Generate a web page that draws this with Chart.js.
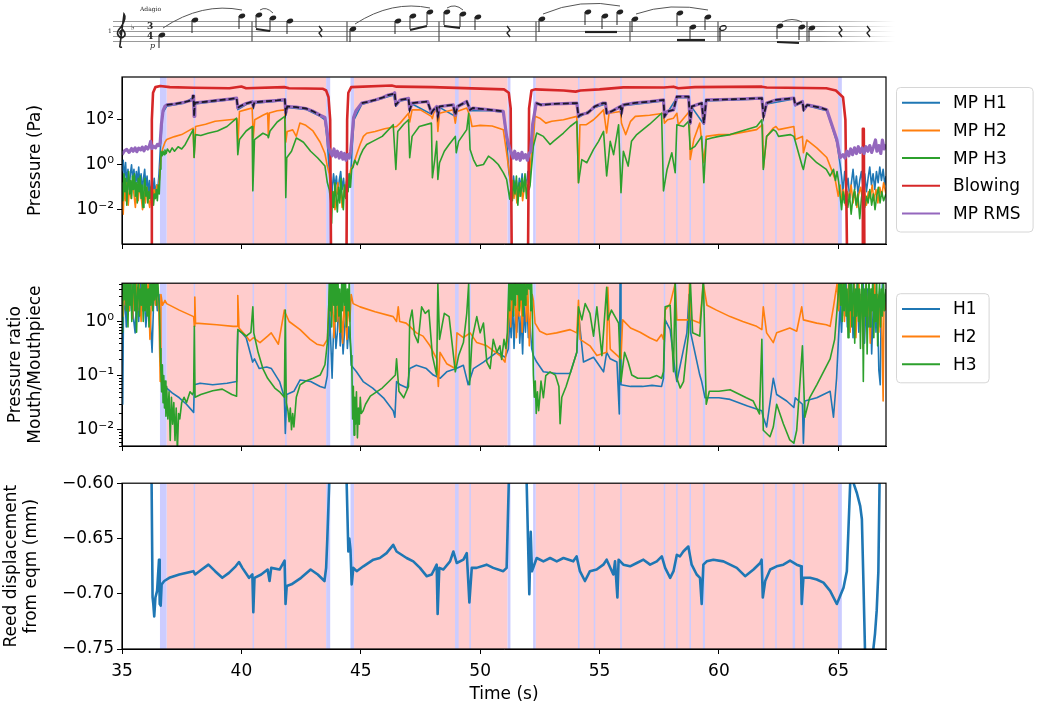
<!DOCTYPE html>
<html><head><meta charset="utf-8">
<script src="https://cdn.jsdelivr.net/npm/chart.js@4.4.1/dist/chart.umd.min.js"></script>
<style>
html,body{margin:0;padding:0;background:#fff;}
body{width:1038px;height:708px;position:relative;overflow:hidden;}
canvas{position:absolute;left:0;}
</style></head><body>
<canvas id="score" width="1038" height="60" style="top:0"></canvas>
<canvas id="c1" width="1038" height="208" style="top:62px"></canvas>
<canvas id="c2" width="1038" height="200" style="top:270px"></canvas>
<canvas id="c3" width="1038" height="238" style="top:470px"></canvas>
<script>
// ---------------- DATA ----------------
const timeTicks = [35, 40, 45, 50, 55, 60, 65];
const pressureTickExps = [-2, 0, 2];
const ratioTickExps = [-2, -1, 0];
const reedTicks = [-0.75, -0.70, -0.65, -0.60];

// shaded note regions (time, s)
const pinkSpans = [[36.87,43.55],[44.72,51.15],[52.33,64.99]];
const blueSpans = [[36.59,36.87],[38.0,38.06],[40.47,40.53],[41.83,41.9],[43.55,43.72],[44.57,44.72],[48.95,49.1],[49.55,49.61],[51.15,51.27],[52.22,52.33],[54.1,54.15],[54.76,54.82],[55.87,55.93],[57.69,57.75],[58.21,58.27],[58.77,58.83],[59.33,59.42],[61.84,61.9],[62.36,62.42],[63.09,63.19],[63.51,63.57],[64.99,65.15]];

// Panel 1: [time, log10 pressure (Pa)]
const mpH1 = [[35,-0.3],[35.05,0.2],[35.1,-0.6],[35.15,0.1],[35.2,-0.9],[35.25,-0.2],[35.3,-1.1],[35.35,-0.4],[35.4,0.0],[35.45,-0.7],[35.5,-0.2],[35.55,-1.0],[35.6,-0.3],[35.65,-0.8],[35.7,-0.1],[35.75,-0.9],[35.8,-0.4],[35.85,-1.2],[35.9,-0.6],[35.95,-0.2],[36.0,-1.0],[36.05,-0.5],[36.1,-1.3],[36.15,-0.7],[36.2,-1.5],[36.25,-0.8],[36.3,-1.2],[36.35,-0.6],[36.4,-1.4],[36.45,-0.9],[36.5,-1.1],[36.55,-0.4],[36.6,0.6],[36.7,2.3],[36.87,2.6],[37.6,2.74],[37.97,2.98],[38.02,2.15],[38.05,2.7],[39.0,2.82],[39.8,2.92],[39.85,2.45],[40.2,2.68],[40.45,2.76],[40.5,2.5],[40.55,2.74],[41.5,2.82],[41.82,2.86],[41.86,2.2],[41.92,2.55],[42.7,2.46],[43.3,2.15],[43.5,2.0],[43.6,1.0],[43.68,-0.2],[43.74,-0.6],[43.8,-1.2],[43.86,-0.4],[43.92,-1.0],[43.98,-0.5],[44.04,-1.3],[44.1,-0.7],[44.16,-0.3],[44.22,-1.1],[44.28,-0.6],[44.34,-1.4],[44.4,-0.8],[44.46,-0.4],[44.52,-1.0],[44.58,-0.5],[44.64,0.8],[44.72,2.0],[45.04,2.68],[46.38,3.1],[46.47,2.6],[46.65,2.84],[47.0,2.9],[47.05,2.4],[47.15,2.7],[47.96,2.25],[48.18,2.55],[48.23,2.1],[48.3,2.55],[48.96,2.15],[49.05,2.55],[49.44,2.77],[49.58,2.4],[50.42,2.4],[50.97,2.33],[51.11,1.1],[51.2,-0.3],[51.28,-0.8],[51.34,-1.3],[51.4,-0.5],[51.46,-1.1],[51.52,-0.7],[51.58,-1.4],[51.64,-0.6],[51.7,-1.0],[51.76,-0.4],[51.82,-1.2],[51.88,-0.6],[51.94,-0.9],[52.0,-0.3],[52.06,-0.8],[52.12,-0.2],[52.2,1.6],[52.35,2.7],[54.05,2.7],[54.12,2.1],[54.8,2.55],[55.25,2.7],[55.3,2.25],[55.88,2.55],[55.92,2.25],[55.98,2.62],[57.68,2.84],[57.72,2.1],[58.24,2.98],[58.73,2.98],[58.8,1.8],[58.87,2.55],[59.37,1.8],[59.47,2.84],[61.8,2.92],[61.87,2.1],[62.0,2.7],[63.14,2.92],[63.2,2.62],[63.5,2.77],[63.55,2.4],[63.7,2.62],[64.52,2.4],[64.66,1.95],[64.94,1.0],[65.08,0.0],[65.14,-0.5],[65.2,-1.2],[65.27,-0.3],[65.34,-1.0],[65.41,-0.6],[65.48,-1.5],[65.55,-0.8],[65.62,-0.2],[65.69,-1.1],[65.76,-0.5],[65.83,-1.3],[65.9,-0.7],[65.97,-0.3],[66.04,-1.0],[66.11,-0.4],[66.18,-1.2],[66.25,-0.6],[66.32,-0.1],[66.39,-0.9],[66.46,-0.4],[66.53,-1.1],[66.6,-0.3],[66.67,-0.8],[66.74,-0.1],[66.81,-0.7],[66.88,-0.2],[66.95,-0.9],[67,-0.5]];

const mpH2 = [[35,-1.4],[35.05,-2.2],[35.1,-0.9],[35.15,-1.6],[35.2,-0.8],[35.26,-1.8],[35.32,-1.0],[35.38,-1.5],[35.44,-0.7],[35.5,-1.3],[35.56,-1.9],[35.62,-1.1],[35.68,-1.6],[35.74,-0.9],[35.8,-1.4],[35.86,-2.0],[35.92,-1.2],[35.98,-1.7],[36.04,-1.0],[36.1,-1.5],[36.16,-1.9],[36.22,-1.3],[36.28,-1.7],[36.34,-1.1],[36.4,-1.5],[36.46,-0.9],[36.52,-1.2],[36.58,-0.5],[36.63,0.3],[36.7,0.7],[36.8,1.0],[36.87,1.12],[37.2,1.25],[37.5,1.34],[37.98,1.63],[38.02,0.32],[38.08,1.7],[38.5,1.8],[38.9,1.93],[39.5,2.0],[39.82,2.03],[39.86,1.0],[39.92,2.37],[40.2,2.45],[40.45,2.52],[40.5,1.2],[40.56,2.0],[40.9,2.2],[41.1,2.3],[41.13,1.3],[41.17,2.3],[41.5,2.4],[41.82,2.44],[41.86,1.0],[41.92,1.48],[42.15,1.55],[42.3,1.26],[42.45,1.85],[42.7,1.75],[43.0,1.5],[43.3,1.0],[43.5,0.5],[43.6,-0.06],[43.68,-0.4],[43.74,-1.0],[43.8,-1.8],[43.86,-1.2],[43.92,-2.0],[43.98,-1.4],[44.04,-0.8],[44.1,-1.6],[44.16,-1.1],[44.22,-1.9],[44.28,-1.3],[44.34,-0.9],[44.4,-1.5],[44.46,-1.0],[44.52,-0.6],[44.58,-0.2],[44.65,-0.1],[44.75,0.2],[44.85,0.53],[44.97,0.9],[45.11,1.26],[45.25,1.4],[45.6,1.48],[46.0,1.6],[46.5,1.7],[46.65,1.85],[47.0,2.29],[47.05,1.9],[47.15,2.44],[47.5,2.44],[47.96,2.15],[48.0,2.05],[48.05,2.29],[48.18,2.52],[48.23,1.48],[48.3,2.29],[48.87,2.44],[48.96,1.85],[49.03,2.37],[49.44,2.52],[49.58,2.15],[49.66,1.7],[50.0,1.75],[50.5,1.72],[50.97,1.56],[51.11,0.53],[51.24,-0.5],[51.3,-1.2],[51.36,-0.7],[51.42,-1.5],[51.48,-0.9],[51.54,-1.7],[51.6,-1.0],[51.66,-1.4],[51.72,-0.8],[51.78,-1.6],[51.84,-1.1],[51.9,-0.7],[51.96,-1.3],[52.02,-0.9],[52.08,-0.3],[52.16,0.5],[52.23,1.0],[52.3,2.15],[52.5,2.07],[52.75,1.85],[53.0,1.93],[53.49,2.0],[54.05,2.15],[54.12,-0.8],[54.18,1.78],[54.45,1.78],[54.75,2.0],[54.9,2.15],[55.17,2.44],[55.3,1.41],[55.4,2.29],[55.88,2.37],[55.92,1.85],[55.97,1.7],[56.1,1.34],[56.3,1.93],[56.5,2.15],[57.1,2.2],[57.68,2.29],[57.72,1.85],[57.85,2.0],[58.1,2.07],[58.24,2.29],[58.3,1.78],[58.65,2.22],[58.76,2.37],[58.8,0.23],[58.95,1.12],[59.2,1.85],[59.37,0.09],[59.47,1.26],[60.0,1.34],[60.47,1.34],[61.58,1.56],[61.83,1.78],[61.87,-0.13],[62.0,1.26],[62.28,1.63],[62.39,1.7],[62.5,1.56],[63.14,1.7],[63.2,1.12],[63.5,1.26],[63.54,0.53],[63.68,1.1],[64.1,0.75],[64.52,0.32],[64.66,-0.06],[64.87,-0.65],[65.0,-1.4],[65.08,-0.9],[65.15,-1.6],[65.22,-1.1],[65.3,-1.8],[65.38,-1.2],[65.46,-1.5],[65.54,-0.9],[65.62,-1.7],[65.7,-1.2],[65.78,-1.9],[65.86,-1.3],[65.94,-1.0],[66.02,-1.6],[66.1,-1.1],[66.18,-1.8],[66.26,-1.2],[66.34,-1.5],[66.42,-0.9],[66.5,-1.6],[66.58,-1.1],[66.66,-1.7],[66.74,-1.0],[66.82,-1.4],[66.9,-0.8],[67,-1.3]];

const mpH3 = [[35,-0.8],[35.04,-1.6],[35.08,-0.4],[35.12,-1.2],[35.16,-0.6],[35.2,-1.8],[35.24,-0.9],[35.28,-0.3],[35.32,-1.3],[35.36,-0.7],[35.4,-1.5],[35.44,-0.5],[35.48,-1.1],[35.52,-0.4],[35.56,-1.4],[35.6,-0.8],[35.64,-1.7],[35.68,-0.6],[35.72,-1.2],[35.76,-0.5],[35.8,-1.5],[35.84,-0.9],[35.88,-1.9],[35.92,-1.0],[35.96,-0.6],[36.0,-1.4],[36.04,-1.0],[36.08,-1.7],[36.12,-1.2],[36.16,-1.5],[36.2,-1.0],[36.24,-1.6],[36.28,-1.2],[36.32,-1.8],[36.36,-1.3],[36.4,-1.5],[36.44,-1.1],[36.48,-1.6],[36.52,-0.9],[36.56,-1.3],[36.6,-0.2],[36.63,0.6],[36.68,0.4],[36.72,0.6],[36.76,0.45],[36.8,0.65],[36.85,0.5],[36.9,0.7],[37.0,0.55],[37.1,0.75],[37.2,0.6],[37.35,0.8],[37.5,0.7],[37.65,0.9],[37.8,1.2],[37.98,1.56],[38.02,0.32],[38.08,1.34],[38.3,1.3],[38.6,1.4],[39.0,1.5],[39.4,1.7],[39.8,2.07],[39.85,0.45],[39.92,1.12],[40.2,1.5],[40.45,1.7],[40.48,-1.16],[40.55,1.12],[40.9,1.4],[41.1,1.3],[41.13,1.2],[41.2,1.5],[41.5,1.9],[41.82,2.15],[41.86,-1.46],[41.9,0.31],[42.1,0.6],[42.3,1.19],[42.45,1.1],[42.6,1.0],[42.9,0.6],[43.2,0.3],[43.5,-0.06],[43.6,-0.79],[43.68,-1.1],[43.74,-1.6],[43.78,-2.6],[43.82,-1.2],[43.87,-1.9],[43.92,-0.8],[43.97,-1.5],[44.02,-2.1],[44.07,-1.0],[44.12,-1.7],[44.17,-0.6],[44.22,-1.4],[44.27,-2.0],[44.32,-0.9],[44.37,-1.5],[44.42,-0.5],[44.47,-1.2],[44.52,-0.4],[44.57,-1.0],[44.62,-0.2],[44.68,-0.1],[44.75,0.2],[44.85,0.0],[44.97,0.38],[45.1,0.68],[45.25,0.9],[45.5,1.04],[45.9,1.26],[46.36,1.78],[46.47,-0.21],[46.55,1.48],[46.8,1.8],[47.0,2.0],[47.05,0.31],[47.15,1.26],[47.45,1.7],[47.96,1.85],[48.0,-0.58],[48.1,0.23],[48.18,1.04],[48.23,-0.65],[48.3,0.09],[48.5,0.6],[48.7,0.9],[48.96,1.26],[49.0,0.53],[49.1,1.04],[49.44,1.56],[49.52,2.29],[49.58,0.68],[49.72,0.23],[49.86,-0.06],[50.14,0.01],[50.35,0.38],[50.55,0.23],[50.76,0.01],[50.97,-0.35],[51.11,-0.65],[51.24,-1.53],[51.3,-0.9],[51.35,-1.6],[51.4,-0.7],[51.46,-1.3],[51.52,-0.5],[51.58,-1.8],[51.64,-0.8],[51.7,-1.4],[51.76,-0.6],[51.82,-1.2],[51.88,-0.4],[51.94,-1.5],[52.0,-0.9],[52.05,-1.1],[52.09,-0.94],[52.23,0.82],[52.37,1.41],[52.65,1.26],[52.93,0.9],[53.07,1.04],[53.49,1.41],[53.77,1.7],[54.05,1.93],[54.12,-0.8],[54.26,0.23],[54.47,0.09],[54.75,0.68],[54.96,1.04],[55.17,1.48],[55.3,-0.5],[55.45,1.04],[55.59,0.45],[55.8,1.78],[55.9,-1.24],[56.0,0.6],[56.2,-0.06],[56.34,1.04],[56.56,1.34],[57.1,1.8],[57.6,2.29],[57.68,-1.16],[57.83,-0.21],[58.03,0.53],[58.17,-0.35],[58.24,1.78],[58.52,1.7],[58.73,1.93],[58.8,0.68],[59.0,0.82],[59.28,1.26],[59.37,-0.8],[59.47,1.12],[59.7,1.19],[60.0,1.26],[60.47,1.34],[61.58,1.7],[61.8,2.0],[61.86,-0.21],[62.0,1.26],[62.28,1.56],[62.39,1.48],[62.5,1.26],[63.0,1.34],[63.14,1.26],[63.2,1.04],[63.5,-0.1],[63.54,-0.21],[63.68,0.53],[64.1,0.09],[64.5,-0.21],[64.66,-0.5],[64.8,-0.2],[64.88,-0.7],[64.95,-0.3],[65.02,-0.8],[65.08,-1.4],[65.14,-2.0],[65.2,-1.2],[65.26,-1.7],[65.33,-1.0],[65.4,-1.9],[65.47,-1.3],[65.54,-2.2],[65.61,-1.5],[65.68,-1.1],[65.75,-1.8],[65.82,-1.3],[65.9,-2.4],[65.97,-1.5],[66.04,-1.0],[66.11,-1.9],[66.18,-1.4],[66.25,-1.7],[66.32,-1.1],[66.4,-1.8],[66.47,-1.3],[66.54,-2.0],[66.61,-1.4],[66.68,-1.0],[66.75,-1.7],[66.82,-1.2],[66.9,-1.6],[67,-1.3]];

const blowing = [[35,-5],[36.22,-5],[36.25,2.0],[36.3,3.2],[36.4,3.45],[36.6,3.5],[37,3.45],[38,3.42],[39.5,3.4],[40,3.48],[40.2,3.4],[41.8,3.45],[42,3.4],[43.4,3.38],[43.55,3.3],[43.65,3.0],[43.72,2],[43.76,-5],[44.4,-5],[44.43,2],[44.48,3.2],[44.6,3.45],[46.3,3.52],[46.5,3.47],[48,3.45],[51.0,3.35],[51.2,3.2],[51.28,2.5],[51.33,-5],[52.0,-5],[52.05,2.5],[52.15,3.3],[52.3,3.35],[53.5,3.3],[54,3.25],[54.2,3.3],[55,3.35],[56,3.44],[57.7,3.43],[58.1,3.47],[58.3,3.4],[59,3.45],[61.8,3.47],[62,3.43],[64.5,3.4],[64.9,3.3],[65.2,3.0],[65.3,2],[65.38,-5],[66.0,-5],[66.03,1.6],[66.07,1.6],[66.1,-5],[67,-5]];

const mpRms = [[35,0.45],[35.1,0.62],[35.2,0.68],[35.3,0.55],[35.4,0.72],[35.47,0.6],[35.55,0.75],[35.62,0.58],[35.7,0.74],[35.78,0.66],[35.85,0.78],[35.92,0.62],[36.0,0.8],[36.08,0.7],[36.15,0.85],[36.2,1.04],[36.25,0.72],[36.32,0.82],[36.4,0.75],[36.48,0.9],[36.55,0.85],[36.6,1.0],[36.65,1.8],[36.72,2.4],[36.8,2.6],[36.87,2.66],[37.2,2.7],[37.6,2.78],[37.95,2.88],[37.97,3.06],[38.0,3.06],[38.02,2.15],[38.05,2.75],[38.5,2.8],[39.0,2.86],[39.5,2.92],[39.8,2.96],[39.85,2.53],[39.95,2.6],[40.2,2.72],[40.45,2.8],[40.5,2.6],[40.55,2.78],[41.0,2.82],[41.5,2.86],[41.82,2.9],[41.86,2.3],[41.92,2.59],[42.3,2.56],[42.7,2.5],[43.0,2.38],[43.3,2.2],[43.5,2.1],[43.6,1.4],[43.65,0.76],[43.72,0.6],[43.8,0.4],[43.88,0.7],[43.95,0.35],[44.02,0.6],[44.1,0.3],[44.18,0.55],[44.25,0.25],[44.32,0.5],[44.38,0.2],[44.45,0.45],[44.52,0.3],[44.58,0.6],[44.63,1.2],[44.7,2.1],[44.8,2.4],[45.04,2.74],[45.3,2.8],[45.6,2.88],[45.9,2.98],[46.15,3.1],[46.38,3.15],[46.42,3.2],[46.47,2.66],[46.65,2.88],[47.0,2.95],[47.05,2.44],[47.15,2.74],[47.8,2.81],[47.96,2.3],[48.05,2.44],[48.18,2.59],[48.23,2.15],[48.3,2.59],[48.87,2.66],[48.96,2.2],[49.05,2.59],[49.44,2.81],[49.58,2.44],[49.7,2.52],[50.42,2.44],[50.97,2.37],[51.11,1.26],[51.24,0.7],[51.3,0.55],[51.38,0.3],[51.45,0.6],[51.52,0.25],[51.6,0.5],[51.68,0.2],[51.75,0.55],[51.82,0.3],[51.9,0.45],[51.98,0.2],[52.05,0.5],[52.12,0.6],[52.2,1.8],[52.35,2.74],[52.55,2.66],[53.0,2.7],[53.5,2.72],[54.05,2.74],[54.12,2.15],[54.2,2.22],[54.5,2.3],[54.65,2.44],[54.8,2.59],[55.15,2.74],[55.25,2.74],[55.3,2.3],[55.5,2.37],[55.88,2.59],[55.92,2.3],[55.98,2.66],[56.5,2.75],[57.12,2.81],[57.68,2.88],[57.72,2.15],[57.85,2.37],[58.1,2.44],[58.24,3.03],[58.73,3.03],[58.8,1.85],[58.87,2.59],[59.28,2.74],[59.37,1.85],[59.47,2.88],[60.6,2.91],[61.8,2.96],[61.87,2.15],[62.0,2.74],[62.39,2.88],[63.14,2.96],[63.2,2.66],[63.5,2.81],[63.55,2.44],[63.7,2.66],[64.2,2.55],[64.52,2.44],[64.66,2.0],[64.94,1.12],[65.08,0.31],[65.2,0.45],[65.28,0.3],[65.36,0.6],[65.44,0.4],[65.52,0.7],[65.6,0.45],[65.68,0.75],[65.76,0.5],[65.84,0.8],[65.92,0.55],[66.0,0.75],[66.08,0.5],[66.16,0.8],[66.24,0.6],[66.32,0.85],[66.4,0.55],[66.48,0.8],[66.56,1.1],[66.62,0.6],[66.7,0.85],[66.78,0.5],[66.85,1.1],[66.92,0.7],[67,0.9]];
const rmsDarkRanges = [[36.87,43.45],[45.0,51.0],[52.35,64.6]];

// Panel 2: [time, log10 ratio mouth/mouthpiece]
const ratioH1 = [[35,-0.2],[35.03,-1.53],[35.06,0.1],[35.12,0.5],[35.18,-0.1],[35.25,0.6],[35.32,0.2],[35.4,0.8],[35.47,0.1],[35.55,-0.21],[35.62,0.5],[35.7,0.0],[35.78,0.7],[35.85,0.2],[35.92,0.6],[36.0,-0.1],[36.1,0.5],[36.18,0.1],[36.26,-0.57],[36.32,0.3],[36.4,0.6],[36.48,0.2],[36.55,0.5],[36.6,-0.5],[36.65,-0.99],[36.7,-1.1],[36.87,-1.23],[37.1,-1.32],[37.4,-1.41],[37.7,-1.53],[38.0,-1.68],[38.03,-1.17],[38.27,-1.14],[38.8,-1.17],[39.4,-1.14],[39.8,-1.11],[39.85,-0.15],[40.0,-0.2],[40.2,-0.3],[40.4,-0.63],[40.47,-0.75],[40.55,-0.69],[40.75,-0.87],[41.06,-0.84],[41.26,-0.87],[41.6,-1.11],[41.8,-1.4],[41.84,-2.07],[41.9,-1.35],[42.2,-1.29],[42.46,-1.08],[42.9,-1.11],[43.3,-1.2],[43.5,-1.23],[43.6,-1.0],[43.65,-0.5],[43.7,0.2],[43.75,-0.45],[43.8,-1.05],[43.85,-0.3],[43.9,0.1],[43.96,-0.5],[44.02,-0.2],[44.08,0.4],[44.14,-0.45],[44.2,0.0],[44.26,-0.6],[44.32,-0.2],[44.38,0.3],[44.44,-0.5],[44.5,-0.1],[44.56,-0.4],[44.6,-0.81],[44.82,-0.93],[45.1,-1.11],[45.5,-1.23],[45.95,-1.41],[46.36,-1.65],[46.43,-1.77],[46.5,-1.11],[46.65,-1.17],[46.95,-1.23],[47.05,-0.87],[47.33,-0.81],[47.75,-0.87],[48.04,-0.99],[48.32,-1.05],[48.6,-0.93],[49.0,-0.87],[49.3,-0.81],[49.5,-1.17],[49.72,-0.87],[50.14,-0.75],[50.42,-0.66],[50.7,-0.57],[51.05,-0.66],[51.18,-0.51],[51.25,0.1],[51.3,-0.3],[51.36,0.4],[51.42,-0.5],[51.48,0.2],[51.54,-0.2],[51.6,0.5],[51.66,-0.4],[51.72,0.1],[51.78,-0.6],[51.84,0.3],[51.9,-0.2],[51.96,0.4],[52.02,-0.3],[52.08,0.0],[52.16,-0.5],[52.23,-0.63],[52.37,-0.75],[52.65,-0.93],[53.2,-0.96],[53.77,-0.96],[54.05,-0.57],[54.12,0.15],[54.33,-0.75],[54.75,-0.66],[55.17,-0.93],[55.3,-0.57],[55.45,-0.69],[55.73,-0.75],[55.83,-1.71],[55.86,0.7],[55.9,-1.17],[56.3,-1.2],[56.8,-1.2],[57.2,-1.18],[57.6,-1.2],[57.68,-1.05],[57.75,0.03],[57.96,-0.15],[58.17,-0.93],[58.24,-1.11],[58.66,-0.21],[58.75,0.5],[58.82,-0.21],[59.2,-0.99],[59.28,-1.11],[59.42,-1.41],[60.0,-1.41],[60.47,-1.44],[61.2,-1.56],[61.8,-1.65],[61.86,-1.77],[62.0,-1.95],[62.28,-1.05],[62.42,-1.35],[62.84,-1.47],[63.14,-1.59],[63.2,-1.41],[63.5,-1.53],[63.54,-2.25],[63.6,-1.47],[64.1,-1.41],[64.66,-1.29],[64.8,-1.77],[64.93,-1.05],[65.0,-0.4],[65.08,0.3],[65.14,-0.2],[65.2,0.6],[65.26,0.1],[65.32,0.8],[65.38,-0.1],[65.44,0.5],[65.5,0.0],[65.56,0.7],[65.62,-0.3],[65.68,0.4],[65.74,0.1],[65.8,0.8],[65.86,-0.2],[65.92,0.5],[65.98,0.2],[66.04,0.9],[66.1,-0.4],[66.16,0.3],[66.22,0.6],[66.28,-0.1],[66.34,0.5],[66.4,-0.6],[66.46,0.2],[66.52,0.7],[66.58,-0.2],[66.64,0.4],[66.7,-0.9],[66.76,-1.17],[66.8,0.3],[66.86,0.8],[66.92,0.2],[67,0.6]];

const ratioH2 = [[35,0.5],[35.05,0.1],[35.1,0.8],[35.15,0.3],[35.22,0.9],[35.3,0.2],[35.37,0.7],[35.44,0.05],[35.5,0.6],[35.58,0.9],[35.65,0.2],[35.72,0.7],[35.8,0.0],[35.87,0.6],[35.95,0.85],[36.02,0.3],[36.1,0.75],[36.17,-0.33],[36.24,0.5],[36.32,0.85],[36.4,0.3],[36.48,0.7],[36.55,0.1],[36.6,-1.11],[36.63,0.5],[36.7,0.3],[36.8,0.39],[36.87,0.33],[37.4,0.21],[38.0,0.09],[38.03,-0.09],[38.05,0.45],[38.08,-0.03],[38.97,-0.06],[39.66,-0.09],[39.83,-0.09],[39.85,0.48],[39.9,-0.12],[40.2,-0.27],[40.35,-0.36],[40.5,-0.3],[40.78,-0.39],[41.1,-0.27],[41.25,-0.21],[41.55,-0.42],[41.8,0.21],[41.85,0.15],[42.0,0.0],[42.46,-0.15],[42.88,-0.33],[43.16,-0.42],[43.44,-0.45],[43.6,-0.33],[43.65,0.2],[43.7,0.6],[43.76,0.1],[43.82,0.4],[43.88,-0.3],[43.94,0.3],[44.0,0.0],[44.06,0.5],[44.12,-0.2],[44.18,0.25],[44.24,-0.4],[44.3,0.3],[44.36,0.05],[44.42,-0.33],[44.48,0.4],[44.54,0.0],[44.6,0.5],[44.68,0.33],[44.97,0.27],[45.6,0.18],[46.36,0.09],[46.5,0.0],[46.57,0.27],[46.63,0.0],[46.9,-0.03],[47.05,-0.09],[47.33,-0.21],[47.61,-0.27],[47.9,-0.45],[48.18,-0.69],[48.25,-1.2],[48.32,-0.57],[48.6,-0.78],[48.96,-0.87],[49.03,-0.21],[49.3,-0.3],[49.58,-0.21],[49.86,-0.39],[50.28,-0.45],[50.55,-0.54],[50.83,-0.63],[51.04,-0.75],[51.15,-0.3],[51.22,0.4],[51.28,-0.1],[51.34,0.6],[51.4,0.2],[51.46,0.8],[51.52,-0.3],[51.58,0.5],[51.64,0.1],[51.7,0.7],[51.76,-0.2],[51.82,0.4],[51.88,0.9],[51.94,0.0],[52.0,0.6],[52.06,-0.45],[52.12,0.3],[52.18,0.5],[52.23,0.39],[52.3,-0.03],[52.5,-0.18],[52.79,-0.24],[53.2,-0.21],[53.77,-0.15],[54.05,-0.21],[54.12,0.39],[54.19,-0.33],[54.6,-0.45],[54.89,-0.63],[55.3,-0.57],[55.35,0.63],[55.45,-0.51],[55.9,-0.69],[55.97,0.03],[56.3,-0.12],[56.7,-0.2],[57.1,-0.3],[57.4,-0.36],[57.6,-0.24],[57.68,-0.33],[57.75,0.21],[57.96,0.33],[58.17,0.7],[58.24,0.03],[58.73,0.03],[58.77,0.75],[58.85,0.03],[59.2,-0.03],[59.35,0.7],[59.5,0.3],[59.9,0.21],[60.47,0.09],[61.0,0.0],[61.58,-0.09],[61.8,-0.15],[61.86,0.27],[62.0,-0.21],[62.28,-0.39],[62.42,-0.21],[62.97,-0.12],[63.26,-0.18],[63.47,0.27],[63.54,0.03],[64.1,-0.03],[64.5,-0.06],[64.66,-0.09],[64.8,0.27],[64.95,0.7],[65.02,0.2],[65.08,0.8],[65.14,0.3],[65.2,0.9],[65.26,0.0],[65.32,0.6],[65.38,0.2],[65.44,0.8],[65.5,-0.2],[65.56,0.5],[65.62,0.1],[65.68,0.7],[65.74,-0.3],[65.8,0.4],[65.86,0.8],[65.92,0.0],[65.98,0.6],[66.04,-0.5],[66.1,0.3],[66.16,0.7],[66.22,0.1],[66.28,0.5],[66.34,-0.4],[66.4,0.6],[66.46,0.2],[66.52,0.8],[66.58,0.0],[66.64,0.5],[66.7,-0.2],[66.76,0.4],[66.82,0.1],[66.88,-1.47],[66.92,0.5],[67,0.2]];

const ratioH3 = [[35,0.3],[35.02,-0.2],[35.05,0.8],[35.09,0.4],[35.13,1.0],[35.17,0.2],[35.21,0.7],[35.25,-0.1],[35.29,0.9],[35.33,0.3],[35.37,0.8],[35.41,0.0],[35.45,0.6],[35.49,1.0],[35.53,0.2],[35.57,0.7],[35.61,-0.2],[35.65,0.5],[35.69,0.9],[35.73,0.1],[35.77,0.6],[35.81,0.3],[35.85,0.9],[35.89,0.0],[35.93,0.7],[35.97,0.2],[36.01,0.8],[36.05,0.1],[36.09,0.6],[36.13,-0.1],[36.17,0.7],[36.21,0.3],[36.25,0.9],[36.29,0.2],[36.33,0.7],[36.37,0.4],[36.41,1.0],[36.45,0.3],[36.49,0.8],[36.53,0.5],[36.57,0.2],[36.6,-0.5],[36.63,-0.93],[36.66,-1.3],[36.69,-0.8],[36.72,-1.5],[36.75,-1.0],[36.78,-1.6],[36.81,-1.1],[36.84,-1.75],[36.87,-1.2],[36.92,-1.8],[36.97,-1.3],[37.02,-2.2],[37.07,-1.4],[37.12,-1.9],[37.17,-1.5],[37.22,-2.2],[37.27,-1.6],[37.32,-2.4],[37.37,-1.7],[37.42,-1.8],[37.5,-1.5],[37.6,-1.4],[37.7,-1.5],[37.85,-1.3],[37.95,-1.35],[38.0,-1.3],[38.03,-0.09],[38.06,-1.4],[38.3,-1.35],[38.8,-1.28],[39.2,-1.25],[39.6,-1.35],[39.8,-1.38],[39.85,-0.15],[40.0,-0.2],[40.2,-0.27],[40.4,-0.2],[40.48,0.27],[40.52,-0.21],[40.7,-0.57],[40.9,-0.87],[41.1,-1.05],[41.4,-1.23],[41.6,-1.3],[41.8,-1.4],[41.84,0.21],[41.88,-1.5],[41.95,-1.65],[42.0,-1.85],[42.05,-1.6],[42.1,-2.0],[42.15,-1.7],[42.2,-1.95],[42.3,-1.4],[42.46,-1.17],[42.7,-1.1],[43.0,-1.05],[43.3,-0.99],[43.5,-0.8],[43.6,-0.4],[43.65,0.1],[43.69,0.9],[43.72,0.2],[43.75,0.8],[43.78,-0.1],[43.81,0.6],[43.84,1.0],[43.87,0.3],[43.9,0.8],[43.93,0.0],[43.96,0.7],[44.0,0.3],[44.04,0.9],[44.08,0.1],[44.12,0.6],[44.16,-0.2],[44.2,0.7],[44.24,0.2],[44.28,0.9],[44.32,0.3],[44.36,0.8],[44.4,-0.1],[44.44,0.6],[44.48,0.2],[44.52,0.8],[44.56,-0.3],[44.6,-0.63],[44.63,-0.9],[44.66,-1.8],[44.69,-1.2],[44.72,-2.1],[44.75,-1.4],[44.78,-1.9],[44.82,-1.3],[44.86,-2.15],[44.9,-1.6],[44.94,-1.9],[44.98,-1.4],[45.02,-1.7],[45.1,-1.65],[45.2,-1.53],[45.4,-1.38],[45.6,-1.32],[45.9,-1.23],[46.2,-1.1],[46.45,-0.99],[46.5,-0.69],[46.6,-1.29],[46.8,-1.41],[47.0,-1.2],[47.05,0.0],[47.15,0.21],[47.25,-0.24],[47.4,-0.39],[47.55,0.27],[47.7,0.15],[47.85,0.21],[48.0,-0.63],[48.18,-0.99],[48.23,0.69],[48.3,-0.33],[48.5,0.15],[48.7,0.09],[48.96,-0.93],[49.1,-0.63],[49.3,-0.39],[49.44,0.15],[49.52,0.69],[49.56,-1.17],[49.66,-0.33],[49.86,0.09],[50.0,-0.21],[50.14,-0.03],[50.28,-0.75],[50.42,-0.87],[50.55,-0.33],[50.7,-0.57],[50.83,-0.45],[50.9,-0.7],[51.0,-0.33],[51.08,-0.5],[51.14,-0.2],[51.2,0.7],[51.24,0.2],[51.28,0.9],[51.32,0.4],[51.36,1.0],[51.4,0.1],[51.44,0.8],[51.48,0.3],[51.52,0.9],[51.56,0.5],[51.6,1.0],[51.64,0.2],[51.68,0.7],[51.72,0.4],[51.76,0.9],[51.8,0.1],[51.84,0.8],[51.88,0.3],[51.92,0.9],[51.96,0.5],[52.0,1.0],[52.04,0.6],[52.08,0.9],[52.12,0.2],[52.16,0.7],[52.2,-0.2],[52.23,-0.99],[52.27,-1.4],[52.31,-1.1],[52.35,-1.7],[52.4,-1.3],[52.45,-1.65],[52.5,-1.4],[52.55,-1.1],[52.65,-1.41],[52.75,-1.0],[52.93,-0.93],[53.15,-0.99],[53.3,-1.2],[53.35,-1.89],[53.42,-1.4],[53.6,-1.2],[54.05,-0.57],[54.12,0.27],[54.26,0.03],[54.4,0.33],[54.6,0.15],[54.75,-0.27],[54.89,0.27],[55.1,-0.63],[55.3,0.63],[55.35,0.03],[55.5,0.21],[55.8,-0.03],[55.9,-1.11],[56.05,-0.57],[56.2,-0.75],[56.35,-0.99],[56.6,-1.05],[57.1,-1.05],[57.4,-1.0],[57.6,-1.05],[57.68,-0.93],[57.75,0.27],[57.96,0.3],[58.1,-0.93],[58.17,0.8],[58.24,-1.05],[58.38,-1.23],[58.52,-1.11],[58.73,-0.21],[58.8,0.8],[58.9,-0.21],[59.2,-0.27],[59.35,0.8],[59.47,-1.53],[59.6,-1.29],[60.0,-1.29],[60.47,-1.26],[61.15,-1.41],[61.44,-1.47],[61.7,-1.71],[61.8,-0.33],[61.86,-2.01],[62.14,-2.13],[62.28,-1.95],[62.42,-1.53],[62.7,-1.89],[62.97,-2.19],[63.14,-2.25],[63.26,-2.01],[63.5,-0.45],[63.6,-1.77],[63.8,-1.41],[64.1,-1.17],[64.38,-0.93],[64.66,-0.69],[64.85,-0.33],[65.0,0.5],[65.05,0.9],[65.09,0.3],[65.13,0.8],[65.17,0.0],[65.21,0.7],[65.25,0.2],[65.29,1.0],[65.33,0.1],[65.37,0.6],[65.41,-0.3],[65.45,0.7],[65.49,0.2],[65.53,0.9],[65.57,-0.1],[65.61,0.5],[65.65,0.8],[65.69,-0.4],[65.73,0.6],[65.77,0.1],[65.81,0.9],[65.85,0.0],[65.89,0.6],[65.93,-0.5],[65.97,0.5],[66.01,0.9],[66.05,-1.11],[66.09,0.6],[66.13,0.1],[66.17,0.8],[66.21,-0.6],[66.25,0.4],[66.29,0.8],[66.33,-0.1],[66.37,0.6],[66.41,0.2],[66.45,0.9],[66.49,-0.3],[66.53,0.5],[66.57,0.0],[66.61,0.8],[66.65,-0.45],[66.69,0.4],[66.73,0.7],[66.77,-0.1],[66.81,0.6],[66.85,0.1],[66.89,0.8],[66.93,0.2],[67,0.6]];

// Panel 3: [time, reed displacement (mm)]
const reed = [[35,-0.55],[36.2,-0.55],[36.24,-0.6],[36.28,-0.703],[36.31,-0.709],[36.35,-0.7206],[36.4,-0.7034],[36.47,-0.6974],[36.55,-0.6692],[36.58,-0.7093],[36.62,-0.7108],[36.66,-0.6915],[36.77,-0.6885],[36.98,-0.6856],[37.4,-0.6826],[37.99,-0.6796],[38.06,-0.6826],[38.34,-0.6781],[38.62,-0.6737],[38.9,-0.6796],[39.2,-0.6856],[39.48,-0.6811],[39.76,-0.6752],[39.9,-0.6713],[40.04,-0.6766],[40.32,-0.6856],[40.46,-0.6826],[40.5,-0.7167],[40.55,-0.6856],[40.83,-0.6826],[41.1,-0.6781],[41.18,-0.6885],[41.25,-0.6766],[41.6,-0.6781],[41.81,-0.6701],[41.85,-0.7093],[41.9,-0.693],[42.1,-0.6915],[42.5,-0.6856],[42.9,-0.6781],[43.2,-0.6826],[43.48,-0.6885],[43.55,-0.6766],[43.6,-0.65],[43.68,-0.6],[43.72,-0.55],[44.38,-0.55],[44.41,-0.6],[44.48,-0.6618],[44.52,-0.65],[44.57,-0.66],[44.62,-0.6915],[44.69,-0.6766],[44.83,-0.6796],[45.11,-0.6752],[45.53,-0.6692],[45.8,-0.6677],[46.08,-0.6633],[46.36,-0.6558],[46.5,-0.6618],[46.92,-0.6677],[47.2,-0.6707],[47.48,-0.6766],[47.76,-0.6841],[47.97,-0.6826],[48.18,-0.6737],[48.22,-0.7182],[48.29,-0.6766],[48.46,-0.6781],[48.74,-0.6707],[48.88,-0.6618],[49.02,-0.6722],[49.3,-0.6692],[49.44,-0.6633],[49.55,-0.7078],[49.65,-0.6766],[49.85,-0.6766],[50.27,-0.6737],[50.55,-0.6766],[50.97,-0.6796],[51.11,-0.6766],[51.2,-0.6],[51.23,-0.55],[51.92,-0.55],[51.95,-0.6],[52.02,-0.6648],[52.06,-0.7004],[52.12,-0.644],[52.17,-0.6796],[52.37,-0.6677],[52.65,-0.6707],[52.93,-0.6677],[53.21,-0.6707],[53.49,-0.6677],[53.9,-0.6707],[54.04,-0.6662],[54.18,-0.6796],[54.39,-0.6885],[54.6,-0.6796],[54.88,-0.6781],[55.16,-0.6737],[55.3,-0.6692],[55.58,-0.6826],[55.65,-0.6707],[55.75,-0.7034],[55.8,-0.6692],[56.0,-0.6737],[56.28,-0.6752],[56.56,-0.6722],[56.84,-0.6692],[57.12,-0.6737],[57.4,-0.6707],[57.61,-0.6662],[57.75,-0.6766],[57.96,-0.6856],[58.1,-0.6796],[58.24,-0.6648],[58.37,-0.6662],[58.51,-0.6618],[58.72,-0.6573],[58.86,-0.6737],[59.07,-0.6826],[59.21,-0.6856],[59.28,-0.7093],[59.35,-0.6737],[59.49,-0.6707],[59.77,-0.6692],[60.19,-0.6707],[60.47,-0.6737],[60.75,-0.6766],[61.1,-0.6841],[61.45,-0.6781],[61.73,-0.6722],[61.79,-0.6692],[61.84,-0.7034],[61.94,-0.6885],[62.15,-0.6781],[62.42,-0.6752],[62.7,-0.6737],[62.98,-0.6701],[63.26,-0.6737],[63.44,-0.6752],[63.47,-0.7093],[63.54,-0.6856],[63.82,-0.6856],[64.1,-0.6871],[64.38,-0.69],[64.66,-0.6974],[64.94,-0.7093],[65.22,-0.6945],[65.36,-0.6796],[65.5,-0.6],[65.55,-0.55],[65.6,-0.55],[65.64,-0.6],[65.78,-0.6089],[65.92,-0.6207],[65.99,-0.6326],[66.06,-0.6945],[66.13,-0.76],[66.45,-0.76],[66.47,-0.75],[66.54,-0.736],[66.61,-0.7153],[66.68,-0.68],[66.73,-0.6],[66.76,-0.55],[67,-0.55]];

// ---------------- HELPERS ----------------
const FONT = 'DejaVu Sans';
Chart.defaults.font.family = FONT;
Chart.defaults.font.size = 17;
Chart.defaults.color = '#000';
Chart.defaults.animation = false;

const fromLog = arr => arr.map(([t, v]) => ({x: t, y: Math.pow(10, v)}));
const lin = arr => arr.map(([t, v]) => ({x: t, y: v}));
const supers = {'-':'\u207B','0':'\u2070','1':'\u00B9','2':'\u00B2','3':'\u00B3'};
const powLabel = e => '10' + String(e).split('').map(c => supers[c]).join('');

const spanPlugin = {
  id: 'spans',
  beforeDatasetsDraw(chart) {
    const {ctx, chartArea: a, scales: {x}} = chart;
    ctx.save();
    ctx.beginPath(); ctx.rect(a.left, a.top, a.width, a.height); ctx.clip();
    const fill = (spans, c) => {
      ctx.fillStyle = c;
      spans.forEach(([t0, t1]) => {
        const p0 = x.getPixelForValue(t0), p1 = x.getPixelForValue(t1);
        ctx.fillRect(p0, a.top, Math.max(p1 - p0, 1.5), a.height);
      });
    };
    fill(pinkSpans, '#ffcccc');
    fill(blueSpans, '#ccccff');
    ctx.restore();
  }
};

const framePlugin = {
  id: 'frame',
  afterDraw(chart, args, opts) {
    const {ctx, chartArea: a} = chart;
    ctx.save();
    ctx.strokeStyle = '#000'; ctx.lineWidth = 1.2;
    ctx.strokeRect(a.left, a.top, a.width, a.height);
    if (opts && opts.minor) {
      const y = chart.scales.y;
      ctx.lineWidth = 1;
      for (let e = -3; e <= 1; e++) for (let k = 2; k <= 9; k++) {
        const v = k * Math.pow(10, e);
        if (v < y.min || v > y.max) continue;
        const py = Math.round(y.getPixelForValue(v)) + 0.5;
        ctx.beginPath(); ctx.moveTo(a.left - 3, py); ctx.lineTo(a.left, py); ctx.stroke();
      }
    }
    ctx.restore();
  }
};

const legendPlugin = {
  id: 'legendBox',
  afterDraw(chart, args, opts) {
    if (!opts || !opts.show) return;
    const {ctx, chartArea: a} = chart;
    const items = chart.data.datasets.filter(d => d.inLegend);
    ctx.save();
    ctx.font = '17px "' + FONT + '"';
    const maxW = Math.max(...items.map(d => ctx.measureText(d.label).width));
    const rowH = 27.7;
    const x0 = a.right + 10, y0 = a.top + 10;
    const w = 57 + maxW + 12, h = rowH * items.length + 6;
    ctx.beginPath();
    ctx.roundRect(x0 + 0.5, y0 + 0.5, w, h, 4);
    ctx.fillStyle = 'rgba(255,255,255,0.8)'; ctx.fill();
    ctx.strokeStyle = '#d6d6d6'; ctx.lineWidth = 1; ctx.stroke();
    items.forEach((d, i) => {
      const y = y0 + 15.7 + i * rowH;
      ctx.strokeStyle = d.borderColor; ctx.lineWidth = 2;
      ctx.beginPath(); ctx.moveTo(x0 + 6, y); ctx.lineTo(x0 + 44, y); ctx.stroke();
      ctx.fillStyle = '#000'; ctx.textBaseline = 'middle'; ctx.textAlign = 'left';
      ctx.fillText(d.label, x0 + 57, y + 1);
    });
    ctx.restore();
  }
};

function xAxis(showLabels, height, title) {
  return {
    type: 'linear', min: 35, max: 67,
    afterBuildTicks: s => { s.ticks = timeTicks.map(v => ({value: v})); },
    ticks: {autoSkip: false, maxRotation: 0, padding: 7,
      callback: v => showLabels ? String(v) : ''},
    grid: {display: true, drawOnChartArea: false, drawTicks: true, tickLength: 5, color: '#000', lineWidth: 1},
    border: {display: true, color: '#000', width: 1},
    title: title ? {display: true, text: title, padding: {top: 0, bottom: 3}} : {display: false},
    afterFit: s => { s.height = height; }
  };
}
function yGrid() {
  return {display: true, drawOnChartArea: false, drawTicks: true, tickLength: 5, color: '#000', lineWidth: 1};
}
function line(label, data, color, width, order, inLegend, extra) {
  return Object.assign({label, data, borderColor: color, backgroundColor: color, borderWidth: width,
    pointRadius: 0, tension: 0, order, inLegend, clip: 0, borderJoinStyle: 'round'}, extra || {});
}

// ---------------- PANEL 1 ----------------
const darkData = rmsDarkRanges.flatMap(([a, b]) => [
  ...mpRms.filter(([t]) => t >= a && t <= b).map(([t, v]) => ({x: t, y: Math.pow(10, v)})),
  {x: b + 0.001, y: null}
]);
new Chart(document.getElementById('c1'), {
  type: 'line',
  data: {datasets: [
    line('MP H1', fromLog(mpH1), '#1f77b4', 1.6, 6, true),
    line('MP H2', fromLog(mpH2), '#ff7f0e', 1.6, 5, true),
    line('MP H3', fromLog(mpH3), '#2ca02c', 1.6, 4, true),
    line('Blowing', fromLog(blowing), '#d62728', 2.6, 3, true),
    line('MP RMS', fromLog(mpRms), '#9467bd', 3.2, 2, true),
    line('', darkData, '#1c1828', 1.8, 1, false, {borderDash: [6, 3], borderJoinStyle: 'miter'})
  ]},
  options: {
    responsive: false,
    layout: {padding: {top: 15, right: 152, left: 0, bottom: 0}},
    plugins: {legend: {display: false}, tooltip: {enabled: false}, legendBox: {show: true}},
    scales: {
      x: xAxis(false, 26),
      y: {type: 'logarithmic', min: Math.pow(10, -3.47), max: Math.pow(10, 3.9),
        afterBuildTicks: s => { s.ticks = pressureTickExps.map(e => ({value: Math.pow(10, e)})); },
        ticks: {padding: 3, callback: v => powLabel(Math.round(Math.log10(v)))},
        grid: yGrid(), border: {display: true, color: '#000', width: 1},
        title: {display: true, text: 'Pressure (Pa)', padding: {top: 25, bottom: 0}},
        afterFit: s => { s.width = 122; }}
    }
  },
  plugins: [spanPlugin, framePlugin, legendPlugin]
});

// ---------------- PANEL 2 ----------------
new Chart(document.getElementById('c2'), {
  type: 'line',
  data: {datasets: [
    line('H1', fromLog(ratioH1), '#1f77b4', 1.6, 3, true),
    line('H2', fromLog(ratioH2), '#ff7f0e', 1.6, 2, true),
    line('H3', fromLog(ratioH3), '#2ca02c', 1.6, 1, true)
  ]},
  options: {
    responsive: false,
    layout: {padding: {top: 9, right: 152, left: 0, bottom: 0}},
    plugins: {legend: {display: false}, tooltip: {enabled: false}, legendBox: {show: true}, frame: {minor: true}},
    scales: {
      x: xAxis(false, 24),
      y: {type: 'logarithmic', min: 0.005, max: 5.1,
        afterBuildTicks: s => { s.ticks = ratioTickExps.map(e => ({value: Math.pow(10, e)})); },
        ticks: {padding: 3, callback: v => powLabel(Math.round(Math.log10(v)))},
        grid: yGrid(), border: {display: true, color: '#000', width: 1},
        title: {display: true, text: ['Pressure ratio', 'Mouth/Mouthpiece'], padding: {top: 5, bottom: 0}},
        afterFit: s => { s.width = 122; }}
    }
  },
  plugins: [spanPlugin, framePlugin, legendPlugin]
});

// ---------------- PANEL 3 ----------------
new Chart(document.getElementById('c3'), {
  type: 'line',
  data: {datasets: [ line('Reed', lin(reed), '#1f77b4', 2.6, 1, false) ]},
  options: {
    responsive: false,
    layout: {padding: {top: 11, right: 152, left: 0, bottom: 0}},
    plugins: {legend: {display: false}, tooltip: {enabled: false}},
    scales: {
      x: xAxis(true, 59, 'Time (s)'),
      y: {type: 'linear', min: -0.75, max: -0.60,
        afterBuildTicks: s => { s.ticks = reedTicks.map(v => ({value: v})); },
        ticks: {padding: 3, callback: v => v.toFixed(2).replace('-', '\u2212')},
        grid: yGrid(), border: {display: true, color: '#000', width: 1},
        title: {display: true, text: ['Reed displacement', 'from eqm (mm)'], padding: {top: 1, bottom: 0}},
        afterFit: s => { s.width = 122; }}
    }
  },
  plugins: [spanPlugin, framePlugin]
});

// ---------------- SCORE (decorative) ----------------
(function drawScore() {
  const c = document.getElementById('score').getContext('2d');
  const staffY = [21.5, 26.5, 31.5, 36.5, 41.5];
  const grad = c.createLinearGradient(820, 0, 895, 0);
  grad.addColorStop(0, '#9a9a9a'); grad.addColorStop(1, 'rgba(154,154,154,0)');
  c.strokeStyle = grad; c.lineWidth = 1;
  staffY.forEach(y => { c.beginPath(); c.moveTo(113, y); c.lineTo(895, y); c.stroke(); });
  c.strokeStyle = '#555'; c.lineWidth = 1.2;
  [252, 347, 439, 536, 630, 718, 807].forEach(x => { c.beginPath(); c.moveTo(x, 21.5); c.lineTo(x, 41.5); c.stroke(); });
  c.strokeStyle = '#222'; c.lineWidth = 1.6;
  c.beginPath();
  c.moveTo(122, 47); c.quadraticCurveTo(119, 48, 120, 45);
  c.lineTo(124, 14); c.quadraticCurveTo(127, 18, 121, 27);
  c.quadraticCurveTo(114, 34, 121, 38); c.quadraticCurveTo(128, 36, 123, 30);
  c.quadraticCurveTo(118, 31, 121, 35);
  c.stroke();
  c.fillStyle = '#222';
  c.font = 'bold 9px "DejaVu Serif"'; c.fillText('3', 147, 29); c.fillText('4', 147, 39);
  c.font = '8px "DejaVu Sans"'; c.fillText('\u266D', 131, 30);
  c.font = '6px "DejaVu Serif"'; c.fillText('Adagio', 140, 11); c.fillText('1', 108, 33);
  c.font = 'italic 8px "DejaVu Serif"'; c.fillText('p', 150, 48);
  const notes = [[162,35],[195,20],[242,16],[259,15],[273,18],[290,21],[353,29],[398,21],[413,16],[430,12],[447,12],[463,14],[478,17],[542,19],[588,12],[605,16],[620,12],[635,19],[680,13],[693,27],[708,17],[780,26],[802,27],[812,28]];
  notes.forEach(([x, y]) => {
    c.beginPath(); c.ellipse(x, y, 3.3, 2.3, -0.35, 0, Math.PI * 2); c.fill();
    c.lineWidth = 1; c.strokeStyle = '#222';
    c.beginPath(); c.moveTo(x - 3, y); c.lineTo(x - 3, y + 13); c.stroke();
  });
  c.beginPath(); c.ellipse(723, 28, 3.3, 2.3, -0.35, 0, Math.PI * 2); c.lineWidth = 1.2; c.stroke();
  c.beginPath(); c.moveTo(720, 28); c.lineTo(720, 41); c.stroke();
  c.lineWidth = 2.2; c.strokeStyle = '#222';
  [[256, 29, 270, 31], [410, 30, 427, 26], [444, 26, 460, 28], [585, 32, 617, 32], [677, 40, 705, 40], [777, 42, 799, 43]].forEach(([a, b, d, e]) => {
    c.beginPath(); c.moveTo(a, b); c.lineTo(d, e); c.stroke();
  });
  c.lineWidth = 1.3;
  [320, 508, 840, 868].forEach(x => {
    c.beginPath(); c.moveTo(x - 1, 26); c.lineTo(x + 2, 30); c.lineTo(x - 1, 33); c.lineTo(x + 2, 37); c.stroke();
  });
  c.strokeStyle = '#555'; c.lineWidth = 1;
  [[163, 28, 242, 10, 202, 2], [260, 10, 273, 13, 266, 6], [355, 24, 430, 8, 392, 0], [447, 8, 463, 10, 455, 3], [543, 14, 620, 6, 580, -2], [636, 14, 708, 10, 670, 2], [782, 22, 802, 22, 792, 17]].forEach(([a, b, d, e, cx, cy]) => {
    c.beginPath(); c.moveTo(a, b); c.quadraticCurveTo(cx, cy, d, e); c.stroke();
  });
})();
</script>
</body></html>
